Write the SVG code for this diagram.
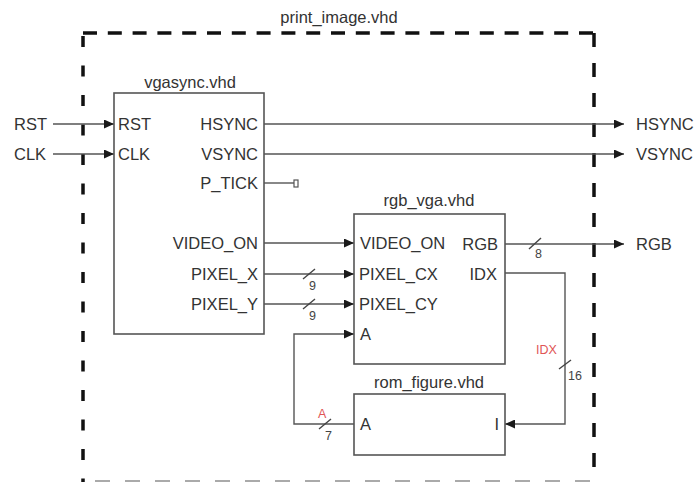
<svg xmlns="http://www.w3.org/2000/svg" width="697" height="482" viewBox="0 0 697 482">
<defs>
<marker id="arr" markerUnits="userSpaceOnUse" markerWidth="10" markerHeight="9" refX="10" refY="4.5" orient="auto">
<path d="M0,0 L10,4.5 L0,9 z" fill="#1a1a1a"/>
</marker>
</defs>
<style>
text{font-family:"Liberation Sans",Arial,sans-serif;font-size:16.5px;fill:#333}
.e{text-anchor:end}
.m{text-anchor:middle}
.s{font-size:12.5px;fill:#444}
.r{font-size:12.5px;fill:#e05555}
.box{fill:#fff;stroke:#555;stroke-width:1.6}
.w{fill:none;stroke:#555;stroke-width:1.4}
.a{marker-end:url(#arr)}
.d{fill:none;stroke:#111;stroke-width:3.5}
</style>
<rect width="697" height="482" fill="#fff"/>
<g id="frame">
<text class="m" x="339" y="23">print_image.vhd</text>
<line class="d" x1="83" y1="33" x2="594" y2="33" stroke-dasharray="14 10.8"/>
<line class="d" x1="83" y1="36" x2="83" y2="482" stroke-dasharray="11 18.5"/>
<line class="d" x1="594" y1="33" x2="594" y2="470" stroke-dasharray="14 16"/>
<line x1="95" y1="481" x2="594" y2="481" stroke="#aaa" stroke-width="2" stroke-dasharray="15 15"/>
</g>
<g id="connectors">
<path class="w a" d="M53,124 H114"/>
<path class="w a" d="M53,154 H114"/>
<path class="w a" d="M264,124 H624"/>
<path class="w a" d="M264,154 H624"/>
<path class="w" d="M264,183 H294"/>
<rect x="294" y="180" width="4" height="7" fill="#fff" stroke="#555" stroke-width="1.2"/>
<path class="w a" d="M264,243 H354"/>
<path class="w a" d="M264,274 H354"/>
<path class="w a" d="M264,304 H354"/>
<path class="w a" d="M354,424 H294 V334 H354"/>
<path class="w a" d="M505,244 H624"/>
<path class="w a" d="M505,273 H565 V424 H505"/>
<g stroke="#444" stroke-width="1.4">
<line x1="303" y1="279" x2="315" y2="269"/>
<line x1="303" y1="309" x2="315" y2="299"/>
<line x1="529" y1="249" x2="541" y2="238"/>
<line x1="559" y1="369" x2="571" y2="360"/>
<line x1="319" y1="429" x2="331" y2="419"/>
</g>
<text class="s" x="309" y="290">9</text>
<text class="s" x="309" y="320">9</text>
<text class="s" x="535" y="258">8</text>
<text class="s" x="568" y="380">16</text>
<text class="s" x="325" y="440">7</text>
<text class="r" x="536" y="354">IDX</text>
<text class="r" x="318" y="418">A</text>
</g>
<g id="inputs">
<text x="14" y="130">RST</text>
<text x="14" y="160">CLK</text>
</g>
<g id="outputs">
<text x="636" y="130">HSYNC</text>
<text x="636" y="160">VSYNC</text>
<text x="636" y="250">RGB</text>
</g>
<g id="vgasync">
<text class="m" x="190" y="88">vgasync.vhd</text>
<rect class="box" x="114" y="93" width="150" height="241"/>
<text x="118" y="130">RST</text>
<text x="118" y="160">CLK</text>
<text class="e" x="258" y="130">HSYNC</text>
<text class="e" x="258" y="160">VSYNC</text>
<text class="e" x="258" y="189">P_TICK</text>
<text class="e" x="258" y="249">VIDEO_ON</text>
<text class="e" x="258" y="280">PIXEL_X</text>
<text class="e" x="258" y="310">PIXEL_Y</text>
</g>
<g id="rgb_vga">
<text class="m" x="429" y="206">rgb_vga.vhd</text>
<rect class="box" x="354" y="214" width="151" height="150"/>
<text x="360" y="249">VIDEO_ON</text>
<text x="359" y="280">PIXEL_CX</text>
<text x="359" y="310">PIXEL_CY</text>
<text x="360" y="340">A</text>
<text class="e" x="498" y="250">RGB</text>
<text class="e" x="497" y="280">IDX</text>
</g>
<g id="rom_figure">
<text class="m" x="429" y="388">rom_figure.vhd</text>
<rect class="box" x="354" y="394" width="151" height="61"/>
<text x="360" y="430">A</text>
<text class="e" x="499" y="430">I</text>
</g>
</svg>
